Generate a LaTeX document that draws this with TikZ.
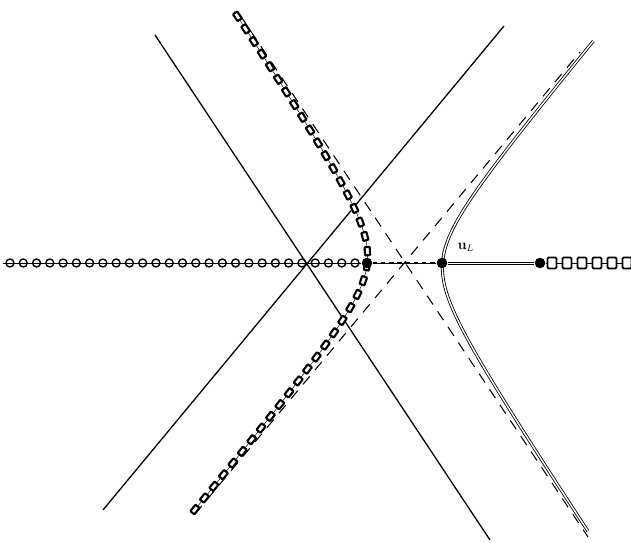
\documentclass[tikz,border=0pt]{standalone}
\usepackage{amsmath, amssymb}
\usepackage{tikz}
\usetikzlibrary{
  % markings for the chain of squares
  decorations.markings,%
  calc,%
  positioning
}
\tikzset{>=latex}
\tikzset{font=\normalsize}
\tikzset{
  dot/.style={circle, fill=black, inner sep=0pt, minimum size=9pt},
  asym/.style={dash pattern=on 9pt off 7pt, line width=0.9pt},
  solidline/.style={line width=1.1pt},
  dbl/.style={double, double distance=1.2pt, line width=0.7pt},
  sqchain/.style={postaction={decorate}, decoration={markings,
      mark=between positions 0.005 and 1 step 12.8pt with
      {\draw[line width=1.8pt, fill=white, rounded corners=0.6pt]
        (-3.5pt,-2.2pt) rectangle (3.5pt,2.2pt);}}}
}

\begin{document}
\begin{tikzpicture}[x=0.03cm, y=-0.03cm]
  \useasboundingbox (0,0) rectangle (631,543);
  % the two lines through the crossing point
  \draw[solidline] (155,35) -- (490,540);
  \draw[solidline] (103,510) -- (504,26);
  % asymptotes
  \draw[asym] (240,15) -- (588,537);
  \draw[asym] (195,514) -- (580,52);
  % right branch
  \draw[dbl, domain=-2.3:2.27, variable=\u, samples=80, smooth]
    plot ({405+18.7*(exp(\u)+exp(-\u))}, {262+18.7*(1.5*exp(\u)-1.2*exp(-\u))});
  % left branch
  \draw[thin, sqchain, domain=-2.42:2.2, variable=\u, samples=120]
    plot ({405-18.7*(exp(\u)+exp(-\u))}, {262-18.7*(1.5*exp(\u)-1.2*exp(-\u))});
  % states on the axis
  \coordinate (w) at (3,263);
  \coordinate (e) at (631,263);
  \node[dot] (uM) at (367,263) {};
  \node[dot] (uL) at (442,263) {};
  \node[dot] (uR) at (540,263) {};
  \draw[thin] (w) -- (uM);
  \foreach \i in {0,...,26}
    \draw[line width=1.2pt] ({10+13.27*\i},263) circle (3.4pt);
  \draw (uM) -- (uL);
  \draw[dash pattern=on 4pt off 3pt, line width=1pt] (uM) -- (uL);
  \draw[line width=0.7pt] ([yshift=0.9pt]uL.east) -- ([yshift=0.9pt]uR.west);
  \draw[line width=0.7pt] ([yshift=-0.9pt]uL.east) -- ([yshift=-0.9pt]uR.west);
  \draw[thin] (uR) -- (e);
  \foreach \x in {552,567,...,627}
    \draw[line width=1.6pt, fill=white, rounded corners=1pt] ({\x-4.5},257.5) rectangle ({\x+4.5},268.5);
  \node (lbl) at (466,247) {\large$\mathbf{u}_L$};
\end{tikzpicture}
\end{document}
